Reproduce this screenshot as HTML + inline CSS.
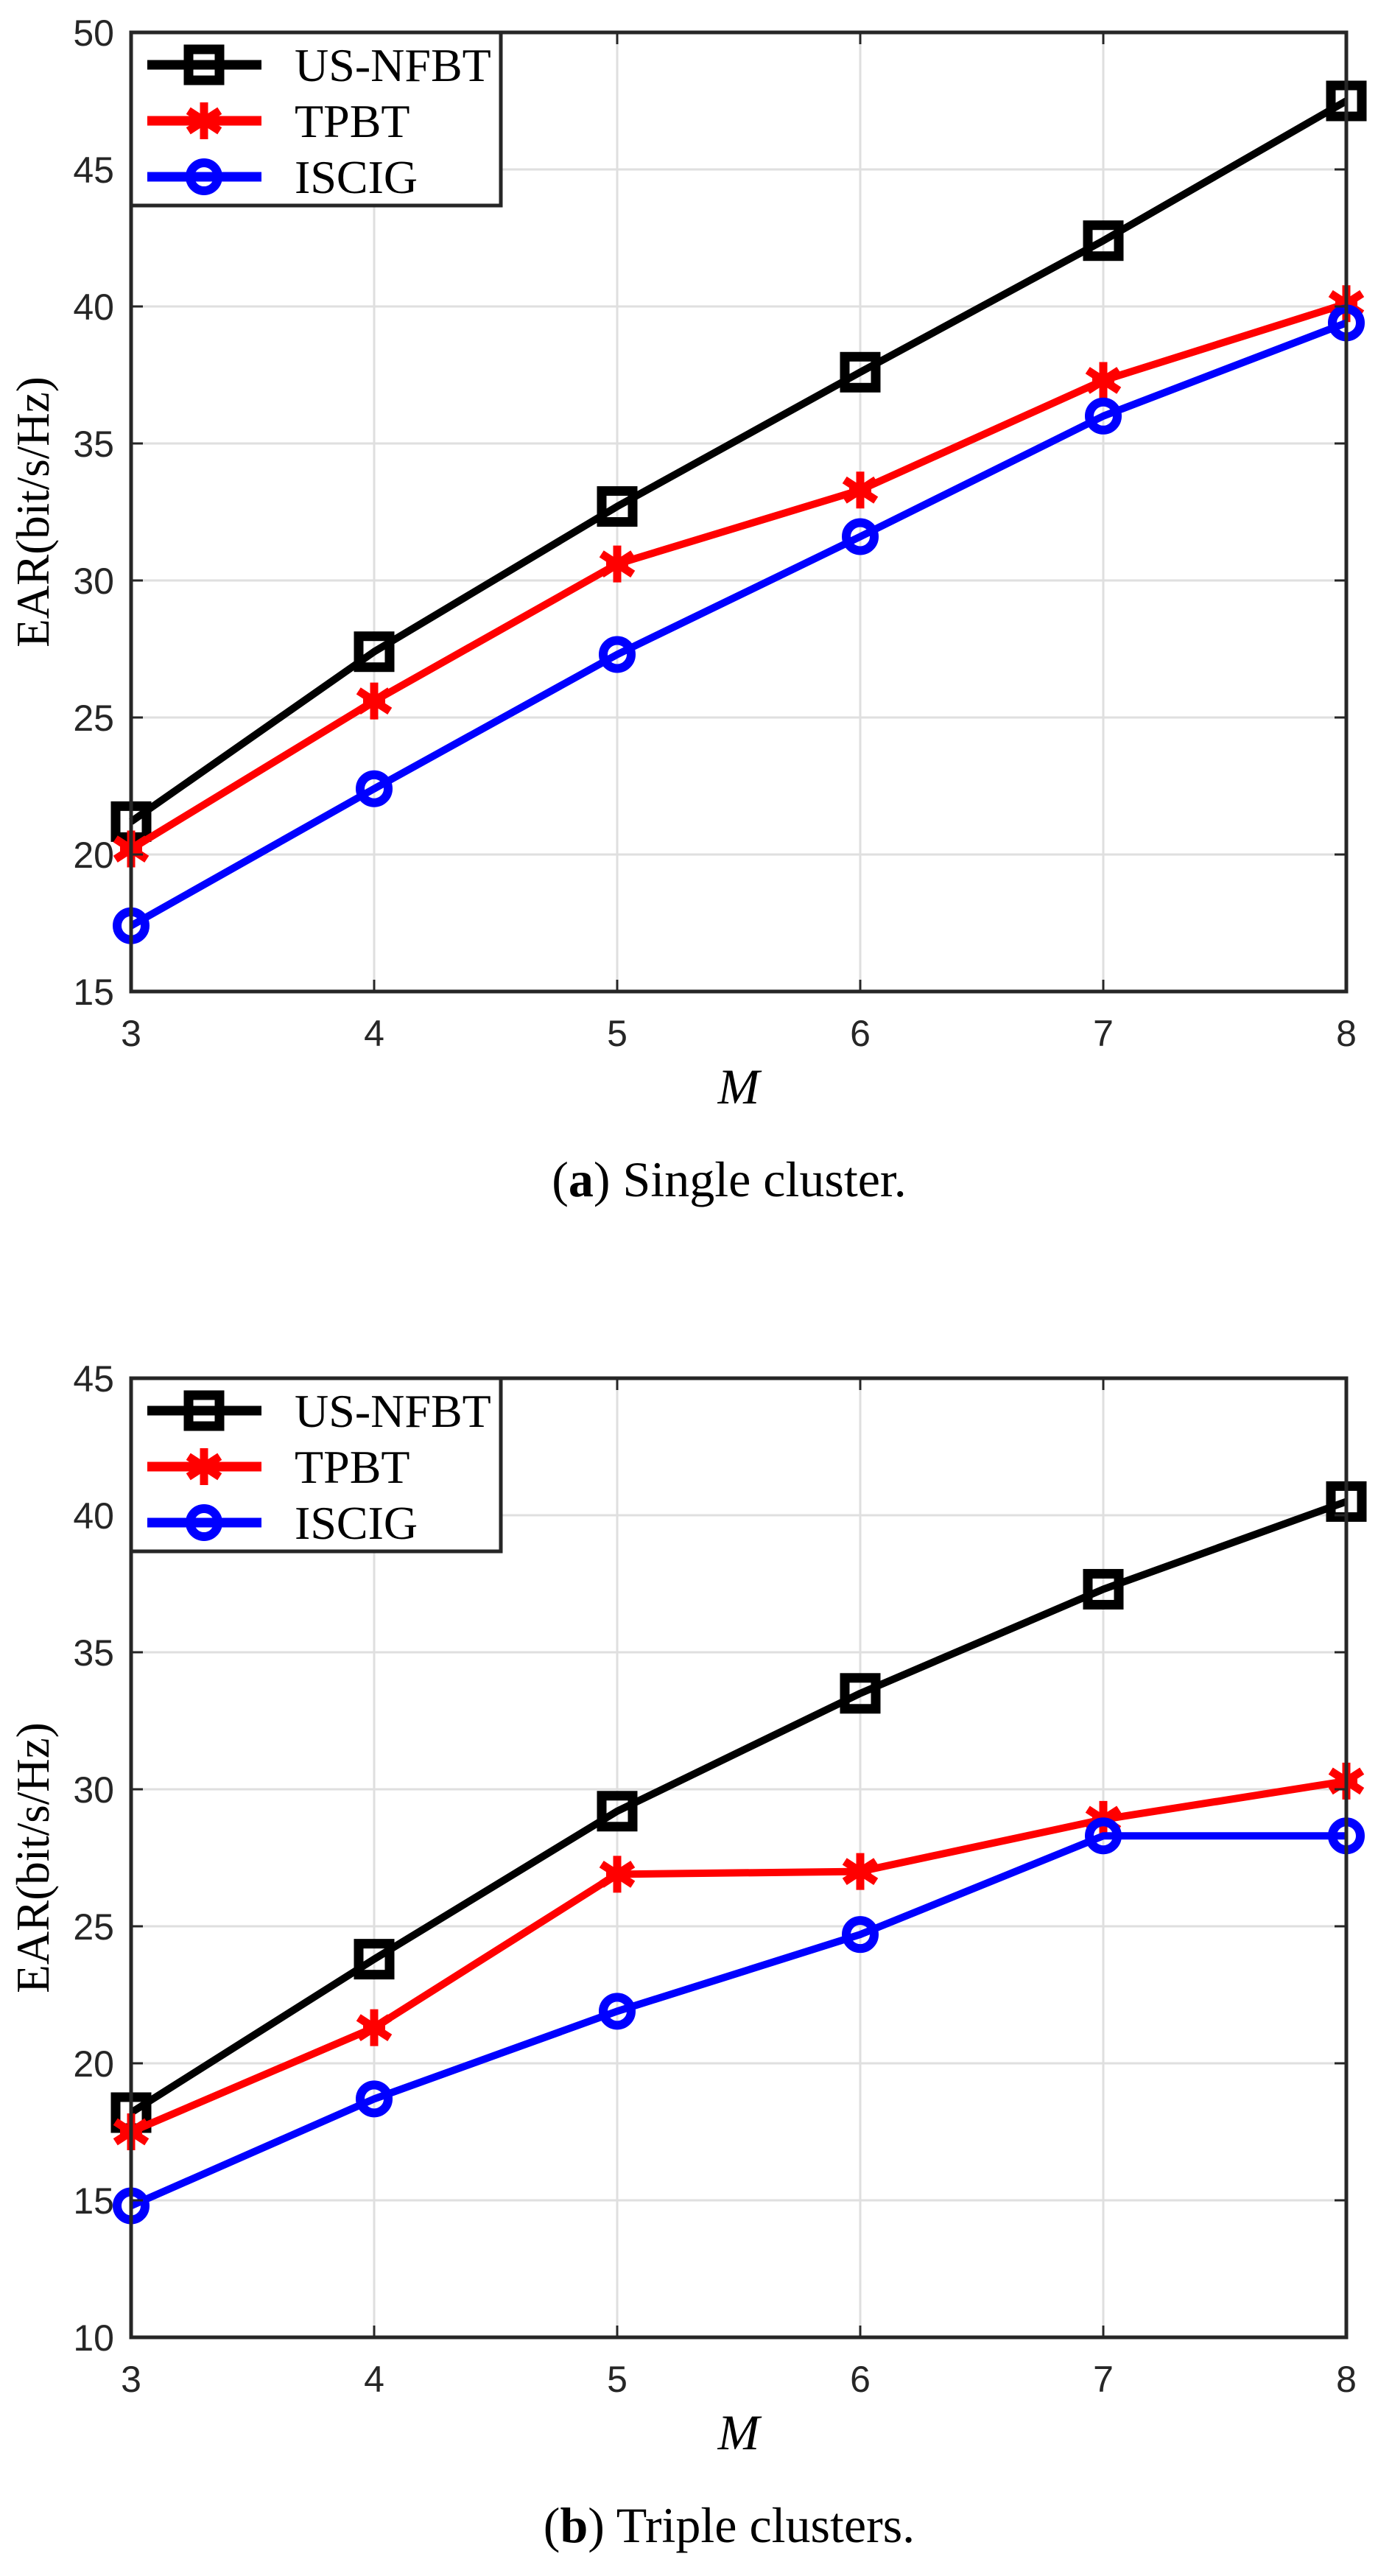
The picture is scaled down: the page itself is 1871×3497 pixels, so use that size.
<!DOCTYPE html>
<html><head><meta charset="utf-8"><style>
html,body{margin:0;padding:0;background:#fff;}
svg{display:block;}
</style></head><body>
<svg id="fig" width="1871" height="3497" viewBox="0 0 1871 3497" xmlns="http://www.w3.org/2000/svg"></svg>
<script>
const xCats = [3, 4, 5, 6, 7, 8];
const seriesNames = ["US-NFBT", "TPBT", "ISCIG"];
const aUsNfbt = [21.2, 27.4, 32.7, 37.6, 42.4, 47.5];
const aTpbt = [20.2, 25.6, 30.6, 33.3, 37.3, 40.1];
const aIscig = [17.4, 22.4, 27.3, 31.6, 36.0, 39.4];
const bUsNfbt = [18.2, 23.8, 29.2, 33.5, 37.3, 40.5];
const bTpbt = [17.5, 21.3, 26.9, 27.0, 28.9, 30.3];
const bIscig = [14.8, 18.7, 21.9, 24.7, 28.3, 28.3];
const aYTicks = [15, 20, 25, 30, 35, 40, 45, 50];
const bYTicks = [10, 15, 20, 25, 30, 35, 40, 45];
const captionA = "Single cluster.";
const captionB = "Triple clusters.";

const NS = "http://www.w3.org/2000/svg";
const svg = document.getElementById("fig");
function mk(tag, attrs, parent) {
  const e = document.createElementNS(NS, tag);
  for (const k in attrs) e.setAttribute(k, attrs[k]);
  (parent || svg).appendChild(e);
  return e;
}
const colors = ["#000000", "#ff0000", "#0000ff"];
const markers = ["square", "star", "circle"];

function marker(g, type, cx, cy, color) {
  if (type === "square") {
    const m = mk("rect", {x: cx - 21, y: cy - 21, width: 42, height: 42, fill: "none", stroke: color, "stroke-width": 13}, g);
    
    
  } else if (type === "circle") {
    const m = mk("circle", {cx: cx, cy: cy, r: 19, fill: "none", stroke: color, "stroke-width": 12}, g);
    
    
  } else {
    const r = 25;
    const d = `M${cx} ${cy - r}L${cx} ${cy + r}M${cx - r * 0.85} ${cy - r * 0.55}L${cx + r * 0.85} ${cy + r * 0.55}M${cx - r * 0.85} ${cy + r * 0.55}L${cx + r * 0.85} ${cy - r * 0.55}M${cx - r*0.6} ${cy}L${cx + r*0.6} ${cy}`;
    const m = mk("path", {d: d, fill: "none", stroke: color, "stroke-width": 11}, g);
    
    
  }
}

function drawPanel(cfg) {
  const L = 178, R = 1828, T = cfg.top, B = cfg.top + 1302;
  const yMin = cfg.yTicks[0], yMax = cfg.yTicks[cfg.yTicks.length - 1];
  const xMin = xCats[0], xMax = xCats[xCats.length - 1];
  const sx = v => L + (v - xMin) / (xMax - xMin) * (R - L);
  const sy = v => B - (v - yMin) / (yMax - yMin) * (B - T);
  const g = mk("g", {});
  
  

  const grid = mk("g", {stroke: "#dfdfdf", "stroke-width": 3}, g);
  
  
  xCats.forEach(v => mk("line", {x1: sx(v), x2: sx(v), y1: T, y2: B}, grid));
  cfg.yTicks.forEach(v => mk("line", {x1: L, x2: R, y1: sy(v), y2: sy(v)}, grid));

  cfg.series.forEach((vals, si) => {
    const sg = mk("g", {}, g);
    
    
    const pts = vals.map((v, i) => sx(xCats[i]) + "," + sy(v)).join(" ");
    const pl = mk("polyline", {points: pts, fill: "none", stroke: colors[si], "stroke-width": 10, "stroke-linejoin": "round"}, sg);
    
    
    vals.forEach((v, i) => marker(sg, markers[si], sx(xCats[i]), sy(v), colors[si]));
  });

  const ax = mk("g", {stroke: "#262626", "stroke-width": 5, fill: "none"}, g);
  
  
  mk("rect", {x: L, y: T, width: R - L, height: B - T}, ax);
  xCats.forEach(v => {
    mk("line", {x1: sx(v), x2: sx(v), y1: B, y2: B - 16, "stroke-width": 3}, ax);
    mk("line", {x1: sx(v), x2: sx(v), y1: T, y2: T + 16, "stroke-width": 3}, ax);
  });
  cfg.yTicks.forEach(v => {
    mk("line", {x1: L, x2: L + 16, y1: sy(v), y2: sy(v), "stroke-width": 3}, ax);
    mk("line", {x1: R, x2: R - 16, y1: sy(v), y2: sy(v), "stroke-width": 3}, ax);
  });

  xCats.forEach(v => {
    const t = mk("text", {x: sx(v), y: B + 74, "text-anchor": "middle", "font-family": "Liberation Sans, sans-serif", "font-size": 50, fill: "#262626"}, g);
    t.textContent = v;
    
    
  });
  cfg.yTicks.forEach(v => {
    const t = mk("text", {x: 155, y: sy(v) + 18, "text-anchor": "end", "font-family": "Liberation Sans, sans-serif", "font-size": 50, fill: "#262626"}, g);
    t.textContent = v;
    
    
  });

  const yc = (T + B) / 2;
  const yt = mk("text", {x: 0, y: 0, transform: `translate(66 ${yc}) rotate(-90)`, "text-anchor": "middle", "font-family": "Liberation Serif, serif", "font-size": 63, fill: "#000"}, g);
  yt.textContent = "EAR(bit/s/Hz)";
  
  

  const xt = mk("text", {x: 1003, y: B + 152, "text-anchor": "middle", "font-family": "Liberation Serif, serif", "font-style": "italic", "font-size": 68, fill: "#000"}, g);
  xt.textContent = "M";
  
  

  const lg = mk("g", {}, g);
  
  
  mk("rect", {x: L, y: T, width: 502, height: 235, fill: "#fff", stroke: "#262626", "stroke-width": 5}, lg);
  seriesNames.forEach((n, i) => {
    const ry = T + 44 + i * 76;
    const e = mk("g", {}, lg);
    
    
    mk("line", {x1: 200, x2: 355, y1: ry, y2: ry, stroke: colors[i], "stroke-width": 13}, e);
    marker(e, markers[i], 277, ry, colors[i]);
    const t = mk("text", {x: 400, y: ry + 22, "font-family": "Liberation Serif, serif", "font-size": 64, fill: "#000"}, e);
    t.textContent = n;
  });

  const cp = mk("text", {x: 990, y: B + 278, "text-anchor": "middle", "font-family": "Liberation Serif, serif", "font-size": 68, fill: "#000"}, g);
  
  
  const t1 = mk("tspan", {}, cp); t1.textContent = "(";
  const t2 = mk("tspan", {"font-weight": "bold"}, cp); t2.textContent = cfg.letter;
  const t3 = mk("tspan", {}, cp); t3.textContent = ") " + cfg.caption;
}

drawPanel({name: "panel-a-single-cluster", top: 44, yTicks: aYTicks, series: [aUsNfbt, aTpbt, aIscig], letter: "a", caption: captionA});
drawPanel({name: "panel-b-triple-clusters", top: 1871, yTicks: bYTicks, series: [bUsNfbt, bTpbt, bIscig], letter: "b", caption: captionB});
</script>
</body></html>
